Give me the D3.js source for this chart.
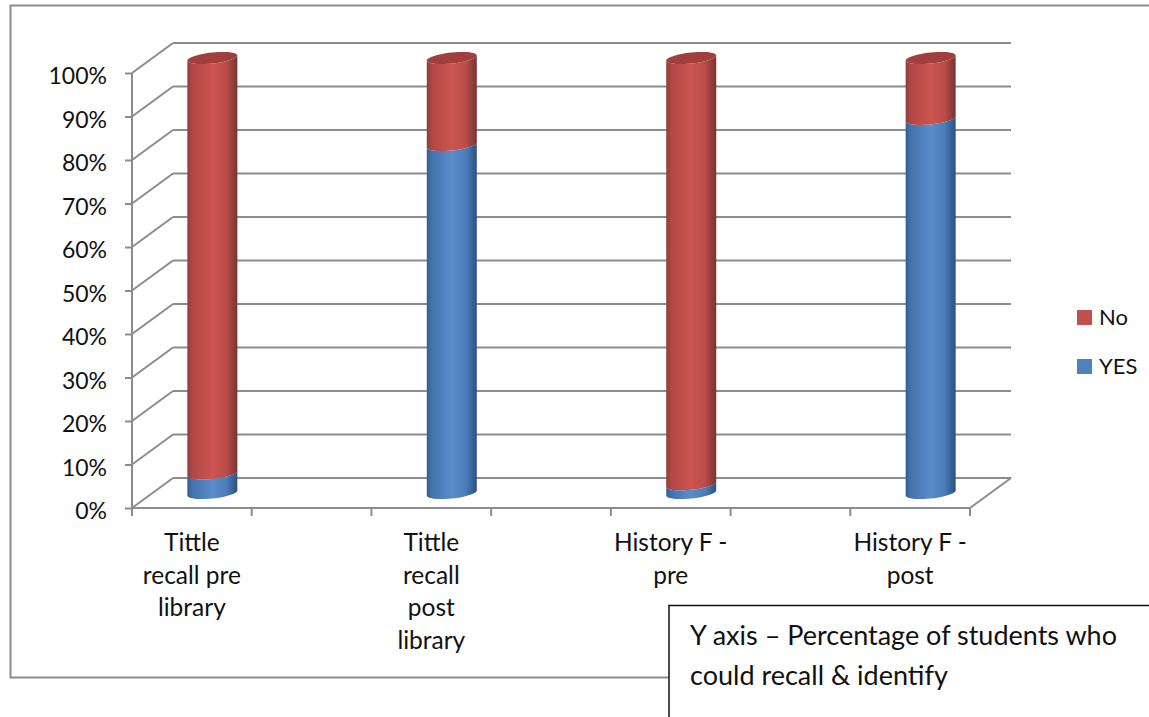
<!DOCTYPE html>
<html>
<head>
<meta charset="utf-8">
<script src="https://cdnjs.cloudflare.com/ajax/libs/d3/7.8.5/d3.min.js"></script>
<style>
html,body{margin:0;padding:0;background:#fff;overflow:hidden}
svg{display:block}
text{font-family:Lato,"Open Sans",sans-serif;fill:#111}
</style>
</head>
<body>
<script>
const categories = [
  ["Tittle","recall pre","library"],
  ["Tittle","recall","post","library"],
  ["History F -","pre"],
  ["History F -","post"]
];
const categorySlots = [0, 2, 4, 6];
const yesValues = [4.5, 80, 2, 86];
const noValues = [95.5, 20, 98, 14];
const yTicks = [0,10,20,30,40,50,60,70,80,90,100];
const legendItems = ["No","YES"];
const noteLines = ["Y axis \u2013 Percentage of students who","could recall & identify"];

const W = 1149, H = 717;
const svg = d3.select("body").append("svg").attr("width",W).attr("height",H);
const grid = "#8c8c8c";
const depthX = 41, depthY = -30;

const x = d3.scaleBand().domain(d3.range(7)).range([132,970]);
const y = d3.scaleLinear().domain([0,100]).range([508,73]);

// gradients
const defs = svg.append("defs");
function grad(id, stops){
  const g = defs.append("linearGradient").attr("id",id).attr("x1","0").attr("x2","1").attr("y1","0").attr("y2","0");
  stops.forEach(s=>g.append("stop").attr("offset",s[0]).attr("stop-color",s[1]));
}
grad("gNo",[[0,"#8f3d3b"],[0.1,"#b04744"],[0.5,"#cd5451"],[0.78,"#bb4c49"],[0.93,"#8c3c3a"],[1,"#763331"]]);
grad("gYes",[[0,"#335f92"],[0.1,"#4473ac"],[0.5,"#5a8ccb"],[0.78,"#4b7db9"],[0.93,"#345f92"],[1,"#2c5080"]]);

// outer frame
svg.append("rect").attr("x",10.5).attr("y",5.5).attr("width",W+20).attr("height",672)
  .attr("fill","#fff").attr("stroke",grid).attr("stroke-width",2);

// gridlines and walls
const walls = svg.append("g").attr("fill","none").attr("stroke",grid).attr("stroke-width",2);
walls.selectAll(".back").data(yTicks).join("line").attr("class","back")
  .attr("x1",x.range()[0]+depthX).attr("x2",x.range()[1]+depthX)
  .attr("y1",d=>y(d)+depthY).attr("y2",d=>y(d)+depthY);
walls.selectAll(".side").data(yTicks).join("line").attr("class","side")
  .attr("x1",x.range()[0]).attr("x2",x.range()[0]+depthX)
  .attr("y1",d=>y(d)).attr("y2",d=>y(d)+depthY);
walls.append("line").attr("x1",x.range()[1]).attr("x2",x.range()[1]+depthX)
  .attr("y1",y(0)).attr("y2",y(0)+depthY);

// y axis
const yAxis = d3.axisLeft(y).tickValues(yTicks).tickSize(7).tickPadding(18).tickFormat(d=>d+"%");
const gy = svg.append("g").attr("transform",`translate(${x.range()[0]},0)`).call(yAxis);
gy.selectAll("path,line").attr("stroke",grid).attr("stroke-width",2);
gy.select("path").attr("d",`M0,${y(100)}V${y(0)}`);
gy.selectAll("text").style("font-size","23px").attr("y",3.5);

// x axis
const edges = d3.range(8).map(i=> i<7 ? x(i) : x.range()[1]);
const gx = svg.append("g").attr("stroke",grid).attr("stroke-width",2);
gx.append("line").attr("x1",x.range()[0]-1).attr("x2",x.range()[1]+1).attr("y1",y(0)).attr("y2",y(0));
gx.selectAll(".t").data(edges).join("line").attr("class","t")
  .attr("x1",d=>d).attr("x2",d=>d).attr("y1",y(0)).attr("y2",y(0)+8);

// cylinders
const rows = categorySlots.map((s,i)=>({slot:s,YES:yesValues[i],No:noValues[i]}));
const stack = d3.stack().keys(["YES","No"])(rows);
const rx = 25, ry = 5.5, tilt = 2.5;
const midY = v => y(v) + depthY/2;
const cx = s => x(s) + x.bandwidth()/2 + depthX/2;
// points along a sheared ellipse centred at (c,m), t in radians
const ell = (c,m,t) => [c - rx*Math.cos(t), m + tilt*Math.cos(t) + ry*Math.sin(t)];
const ts = d3.range(0,25).map(i=>i/24*Math.PI);
const line = d3.line();
function seg(slot, v0, v1){
  const c = cx(slot), a = midY(v0), b = midY(v1);
  const lower = ts.map(t=>ell(c,a,t));
  const upper = ts.map(t=>ell(c,b,t)).reverse();
  return line(lower.concat(upper)) + "Z";
}
function cap(slot){
  const c = cx(slot), m = midY(100);
  const full = d3.range(0,48).map(i=>ell(c,m,i/48*2*Math.PI));
  return line(full) + "Z";
}
const bars = svg.append("g");
stack.forEach(layer=>{
  const id = layer.key==="YES" ? "gYes" : "gNo";
  bars.selectAll("."+layer.key).data(layer).join("path").attr("class",layer.key)
    .attr("d",d=>seg(d.data.slot,d[0],d[1])).attr("fill",`url(#${id})`);
});
bars.selectAll(".cap").data(rows).join("path").attr("class","cap")
  .attr("d",d=>cap(d.slot)).attr("fill","#a03f3d");

// category labels
const labels = svg.append("g").attr("text-anchor","middle").style("font-size","24.5px");
categories.forEach((lines,i)=>{
  const t = labels.append("text").attr("transform",`translate(${x(categorySlots[i])+x.bandwidth()/2},551)`);
  lines.forEach((l,j)=>t.append("tspan").attr("x",0).attr("y",j*32.7).text(l));
});

// legend
const legendColors = d3.scaleOrdinal().domain(legendItems).range(["#c0504d","#4f81bd"]);
const lg = svg.append("g").selectAll("g").data(legendItems).join("g")
  .attr("transform",(d,i)=>`translate(1077,${310+i*49})`);
lg.append("rect").attr("width",15).attr("height",15).attr("fill",d=>legendColors(d));
lg.append("text").attr("x",22).attr("y",15).style("font-size","22px").text(d=>d);

// note box
svg.append("rect").attr("x",669).attr("y",605.5).attr("width",W).attr("height",H)
  .attr("fill","#fff").attr("stroke","#111").attr("stroke-width",1.5);
svg.append("g").selectAll("text").data(noteLines).join("text")
  .attr("x",690).attr("y",(d,i)=>645+i*40).style("font-size","27px").text(d=>d);
</script>
</body>
</html>
